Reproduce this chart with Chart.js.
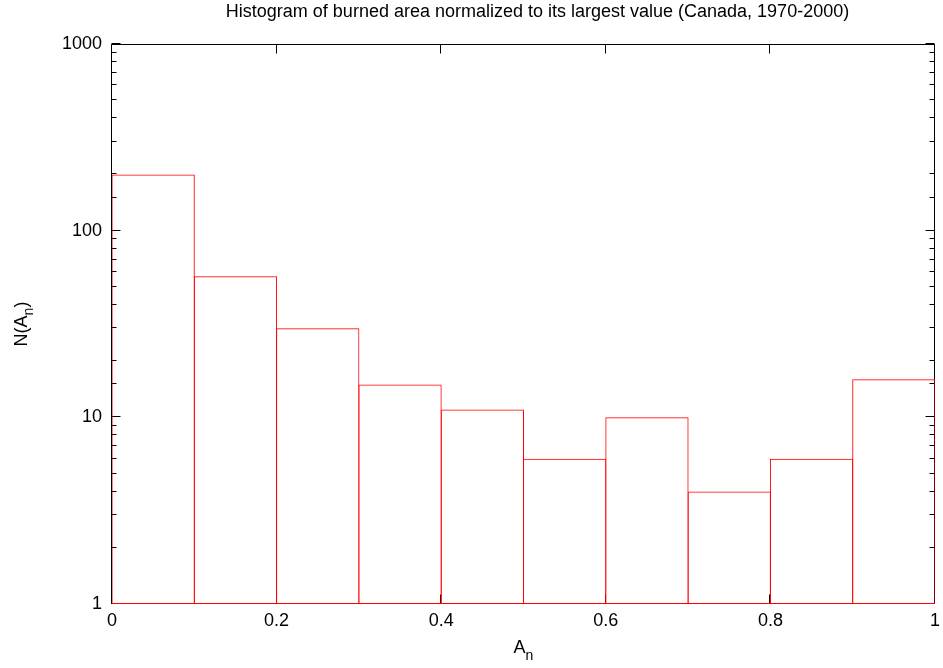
<!DOCTYPE html>
<html>
<head>
<meta charset="utf-8">
<script src="https://cdn.jsdelivr.net/npm/chart.js@4/dist/chart.umd.min.js"></script>
<style>
html,body{margin:0;padding:0;background:#fff;}
#wrap{width:943px;height:668px;}
</style>
</head>
<body>
<div id="wrap"><canvas id="c" width="943" height="668"></canvas></div>
<script>
const binCenters = [0.05, 0.15, 0.25, 0.35, 0.45, 0.55, 0.65, 0.75, 0.85, 0.95];
const counts = [200, 57, 30, 15, 11, 6, 10, 4, 6, 16];
const xTickValues = [0, 0.2, 0.4, 0.6, 0.8, 1];
const yTickLabels = [1, 10, 100, 1000];
const titleText = 'Histogram of burned area normalized to its largest value (Canada, 1970-2000)';

const FONT = '"Liberation Sans", Arial, Helvetica, sans-serif';
const FS = 18;

const framePlugin = {
  id: 'frame',
  beforeDatasetsDraw(chart) {
    const {ctx, chartArea: a, scales} = chart;
    const xs = scales.x, ys = scales.y;
    ctx.save();
    ctx.strokeStyle = '#000';
    ctx.lineWidth = 1;
    ctx.beginPath();
    const L = Math.round(a.left) - 0.5, R = Math.round(a.right) - 0.5;
    const T = Math.round(a.top) + 0.5, B = Math.round(a.bottom) - 0.5;
    ctx.rect(L, T, R - L, B - T);
    ctx.stroke();
    ctx.beginPath();
    xs.ticks.forEach(t => {
      const px = Math.round(xs.getPixelForValue(t.value)) - 0.5;
      ctx.moveTo(px, B); ctx.lineTo(px, B - 9);
      ctx.moveTo(px, T); ctx.lineTo(px, T + 9);
    });
    ys.ticks.forEach(t => {
      const v = t.value;
      const isMajor = yTickLabels.includes(v);
      const len = isMajor ? 9 : 5;
      const py = Math.round(ys.getPixelForValue(v)) - 0.5;
      ctx.moveTo(L, py); ctx.lineTo(L + len, py);
      ctx.moveTo(R, py); ctx.lineTo(R - len, py);
    });
    ctx.stroke();
    ctx.restore();
  },
  afterDraw(chart) {
    const {ctx, chartArea: a} = chart;
    ctx.save();
    ctx.fillStyle = '#000';
    ctx.textBaseline = 'middle';
    const big = FS + 'px ' + FONT;
    const small = Math.round(FS * 0.75) + 'px ' + FONT;
    // title
    ctx.font = big;
    ctx.textAlign = 'center';
    ctx.fillText(titleText, 537.5, 12);
    // x axis title A_n
    ctx.font = big;
    const wA = ctx.measureText('A').width;
    ctx.font = small;
    const wn = ctx.measureText('n').width;
    const cx = (a.left + a.right) / 2;
    const x0 = cx - (wA + wn) / 2;
    ctx.textAlign = 'left';
    ctx.font = big;
    ctx.fillText('A', x0, 648);
    ctx.font = small;
    ctx.fillText('n', x0 + wA, 656);
    // y axis title N(A_n)
    ctx.save();
    ctx.translate(22, (a.top + a.bottom) / 2);
    ctx.rotate(-Math.PI / 2);
    ctx.font = big;
    const w1 = ctx.measureText('N(A').width;
    const w3 = ctx.measureText(')').width;
    ctx.font = small;
    const w2 = ctx.measureText('n').width;
    const sx = -(w1 + w2 + w3) / 2;
    ctx.font = big;
    ctx.fillText('N(A', sx, 0);
    ctx.font = small;
    ctx.fillText('n', sx + w1, 7);
    ctx.font = big;
    ctx.fillText(')', sx + w1 + w2, 0);
    ctx.restore();
    ctx.restore();
  }
};

const chart = new Chart(document.getElementById('c'), {
  type: 'bar',
  data: {
    datasets: [{
      data: binCenters.map((x, i) => ({x: x, y: counts[i]})),
      backgroundColor: 'rgba(0,0,0,0)',
      borderColor: '#ff0000',
      borderWidth: 1,
      borderSkipped: false,
      barPercentage: 83.3 / 82.3,
      categoryPercentage: 1
    }]
  },
  options: {
    responsive: false,
    animation: false,
    devicePixelRatio: 1,
    layout: {padding: {left: 0, right: 8, top: 44, bottom: 0}},
    plugins: {
      legend: {display: false},
      tooltip: {enabled: false},
      title: {display: false}
    },
    scales: {
      x: {
        type: 'linear',
        min: 0,
        max: 1,
        offset: false,
        grid: {display: false, drawTicks: false, offset: false},
        border: {display: false},
        ticks: {
          stepSize: 0.2,
          color: '#000',
          padding: 6,
          font: {family: FONT, size: FS},
          maxRotation: 0,
          callback: (v) => xTickValues.includes(Math.round(v * 10) / 10) ? String(Math.round(v * 10) / 10) : ''
        },
        afterFit(s) { s.height = 64; s.paddingLeft = 0; s.paddingRight = 0; }
      },
      y: {
        type: 'logarithmic',
        min: 1,
        max: 1000,
        grid: {display: false, drawTicks: false},
        border: {display: false},
        ticks: {
          autoSkip: false,
          color: '#000',
          padding: 10,
          font: {family: FONT, size: FS},
          callback: (v) => yTickLabels.includes(v) ? String(v) : ''
        },
        afterFit(s) { s.width = 112; s.paddingTop = 0; s.paddingBottom = 0; }
      }
    }
  },
  plugins: [framePlugin]
});
</script>
</body>
</html>
